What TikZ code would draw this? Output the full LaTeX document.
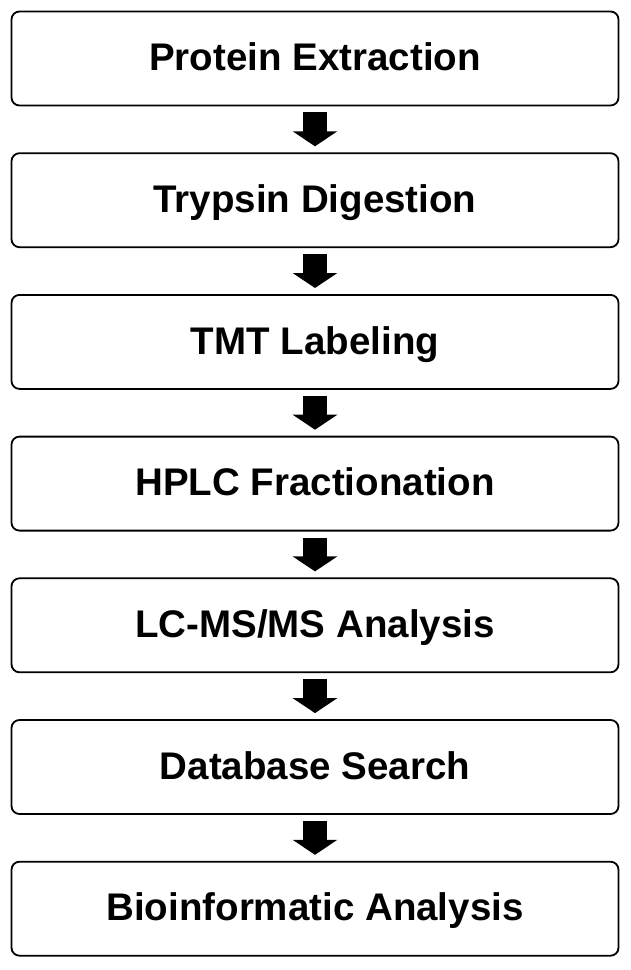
\documentclass[tikz,border=0pt]{standalone}
\usepackage{fontspec}
\setmainfont{Liberation Sans}
\usetikzlibrary{arrows.meta,positioning}

\begin{document}
\begin{tikzpicture}[%
	x=1pt,y=-1pt,node distance=141.7pt,on grid,
	stepbox/.style={draw,line width=1.8pt,rounded corners=8pt,
		minimum width=607pt,minimum height=94pt,
		text height=27.5pt,text depth=3pt,
		font=\fontsize{38.5}{44}\selectfont\bfseries},
	blockarrow/.style={line width=24pt,shorten <=6pt,shorten >=6pt,
		-{Triangle[width=44pt,length=15pt]}}]

	\useasboundingbox (0,0) rectangle (630,970);

	\node[stepbox]	(PE)	at (315,58.5)		{Protein Extraction};
	\node[stepbox]	(TD)	[below=of PE]	{Trypsin Digestion};
	\node[stepbox]	(TMT)	[below=of TD]	{TMT Labeling};
	\node[stepbox]	(HPLC)	[below=of TMT]	{HPLC Fractionation};
	\node[stepbox]	(LCMS)	[below=of HPLC]	{LC-MS/MS Analysis};
	\node[stepbox]	(DB)	[below=of LCMS]	{Database Search};
	\node[stepbox]	(BIO)	[below=of DB]	{Bioinformatic Analysis};

	\draw[blockarrow] (PE)   -- (TD);
	\draw[blockarrow] (TD)   -- (TMT);
	\draw[blockarrow] (TMT)  -- (HPLC);
	\draw[blockarrow] (HPLC) -- (LCMS);
	\draw[blockarrow] (LCMS) -- (DB);
	\draw[blockarrow] (DB)   -- (BIO);

\end{tikzpicture}
\end{document}
